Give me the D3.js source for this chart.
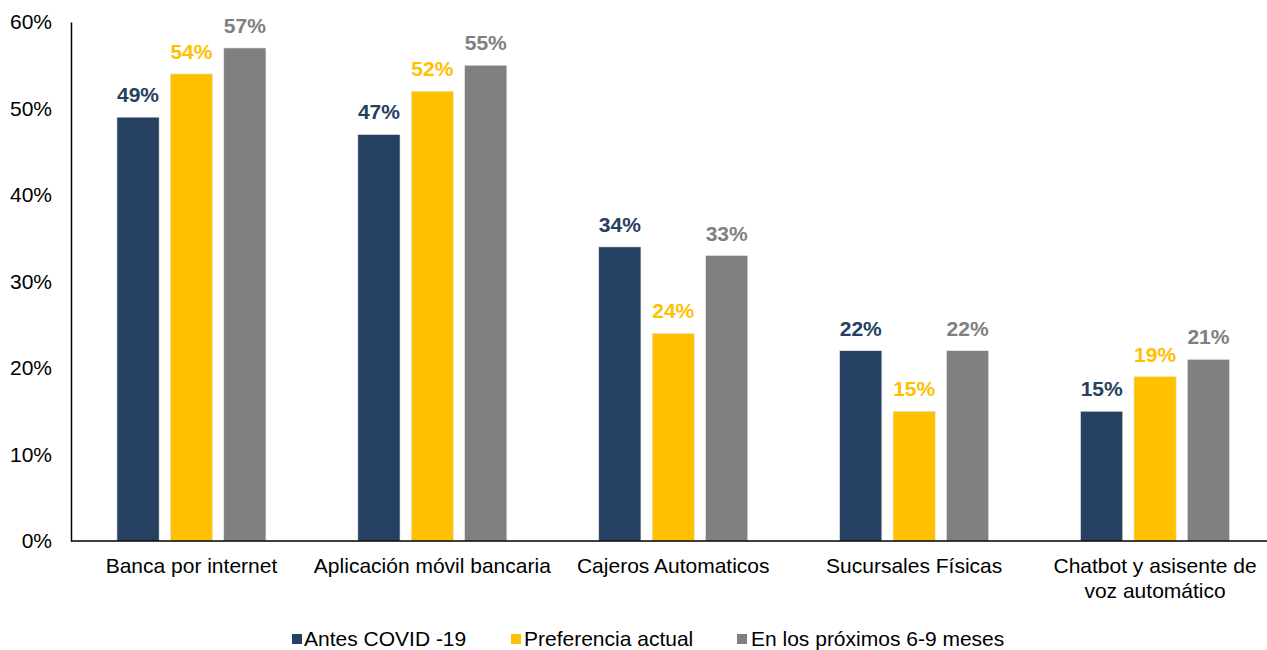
<!DOCTYPE html>
<html>
<head>
<meta charset='utf-8'>
<script src='https://d3js.org/d3.v7.min.js'></script>
<style>
body {margin:0; background:#fff;}
svg text {font-family:'Liberation Sans', Arial, sans-serif;}
</style>
</head>
<body>
<svg id='chart' width=1267 height=650></svg>
<script>
var categories = [['Banca por internet'],['Aplicación móvil bancaria'],['Cajeros Automaticos'],['Sucursales Físicas'],['Chatbot y asisente de','voz automático']]
var series = ['Antes COVID -19','Preferencia actual','En los próximos 6-9 meses']
var antes = [49,47,34,22,15]
var actual = [54,52,24,15,19]
var proximos = [57,55,33,22,21]
var yTicks = [0,10,20,30,40,50,60]
var colors = ['#264061','#FFC000','#808080']

var values = [antes, actual, proximos]
var svg = d3.select('#chart')

//scales
var x0 = d3.scaleBand().domain(d3.range(categories.length)).range([71,1275.5])
var x1 = d3.scaleBand().domain(d3.range(series.length)).range([0,149]).paddingInner(0.21)
var y = d3.scaleLinear().domain([0,60]).range([541,22])
var off = (x0.bandwidth()-149)/2

//y axis
var yAxis = svg.append('g')
  .attr('transform','translate(71,0)')
  .call(d3.axisLeft(y).tickValues(yTicks).tickSize(0).tickPadding(19).tickFormat(function(d){return d+'%'}))
yAxis.select('.domain').attr('stroke','#000').attr('stroke-width',1.5)
yAxis.selectAll('text').attr('font-size','21px').attr('fill','#000')

//bars
series.forEach(function(s,si){
  var g = svg.append('g')
  g.selectAll('rect')
    .data(values[si])
    .enter()
    .append('rect')
      .attr('x',function(d,i){return x0(i)+off+x1(si)})
      .attr('y',function(d){return y(d)})
      .attr('width',x1.bandwidth())
      .attr('height',function(d){return y(0)-y(d)})
      .attr('fill',colors[si])
      .attr('stroke','#e8e8e8')
      .attr('stroke-width',0.6)
  g.selectAll('text')
    .data(values[si])
    .enter()
    .append('text')
      .attr('x',function(d,i){return x0(i)+off+x1(si)+x1.bandwidth()/2})
      .attr('y',function(d){return y(d)-15})
      .attr('text-anchor','middle')
      .attr('font-size','21px')
      .attr('font-weight','bold')
      .attr('fill',colors[si])
      .text(function(d){return d+'%'})
})

//x axis line
svg.append('line')
  .attr('x1',71).attr('x2',1267)
  .attr('y1',y(0)).attr('y2',y(0))
  .attr('stroke','#000').attr('stroke-width',1.5)

//category labels
categories.forEach(function(c,i){
  var t = svg.append('text')
    .attr('x',x0(i)+x0.bandwidth()/2)
    .attr('y',573)
    .attr('text-anchor','middle')
    .attr('font-size','21px')
    .attr('fill','#000')
  c.forEach(function(line,li){
    t.append('tspan').attr('x',x0(i)+x0.bandwidth()/2).attr('dy',li==0?0:25).text(line)
  })
})

//legend
var legX = [292,511,737]
var legText = [304,524,751]
series.forEach(function(s,si){
  svg.append('rect')
    .attr('x',legX[si]).attr('y',634)
    .attr('width',10).attr('height',10)
    .attr('fill',colors[si])
  svg.append('text')
    .attr('x',legText[si]).attr('y',646)
    .attr('font-size','21px')
    .attr('fill','#000')
    .text(s)
})
</script>
</body>
</html>
